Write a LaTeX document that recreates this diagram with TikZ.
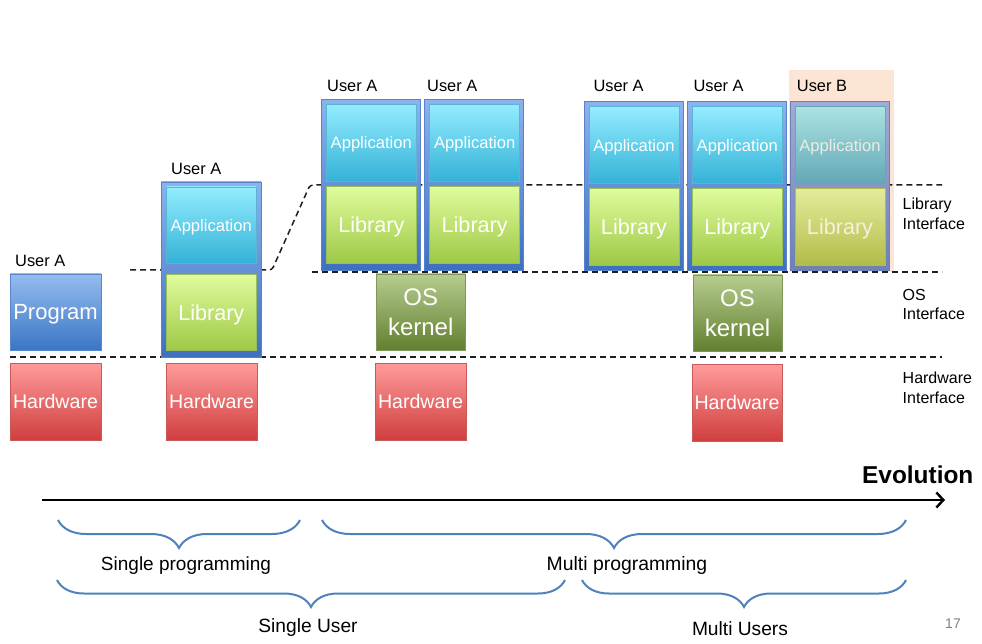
\documentclass[tikz,border=0pt]{standalone}
\usepackage{fontspec}
\setmainfont{Liberation Sans}
\usetikzlibrary{decorations.pathreplacing,arrows.meta}
\definecolor{hwT}{RGB}{255,155,155}
\definecolor{hwB}{RGB}{208,62,62}
\definecolor{hwD}{RGB}{200,90,90}
\definecolor{prT}{RGB}{150,188,240}
\definecolor{prB}{RGB}{58,118,198}
\definecolor{prD}{RGB}{90,135,200}
\definecolor{apT}{RGB}{148,236,255}
\definecolor{apB}{RGB}{52,178,214}
\definecolor{apD}{RGB}{90,180,210}
\definecolor{lbT}{RGB}{224,252,156}
\definecolor{lbB}{RGB}{158,200,70}
\definecolor{lbD}{RGB}{150,190,90}
\definecolor{osT}{RGB}{182,204,142}
\definecolor{osB}{RGB}{98,128,48}
\definecolor{osD}{RGB}{130,150,90}
\definecolor{frT}{RGB}{140,178,240}
\definecolor{frB}{RGB}{62,112,192}
\definecolor{frD}{RGB}{90,130,200}
\definecolor{bapT}{RGB}{172,226,226}
\definecolor{bapB}{RGB}{98,168,182}
\definecolor{blbT}{RGB}{228,236,156}
\definecolor{blbB}{RGB}{178,188,72}
\definecolor{bfrT}{RGB}{160,172,215}
\definecolor{bfrB}{RGB}{110,128,180}
\definecolor{peach}{RGB}{252,229,212}
\definecolor{braceblue}{RGB}{79,129,189}
\definecolor{dashc}{RGB}{30,30,30}
\begin{document}
\begin{tikzpicture}[x=1pt,y=-1pt,
  box/.style={minimum width=90pt,minimum height=76pt,inner sep=0pt,text=white,align=center,line width=0.6pt,text depth=0pt},
  hwbox/.style={box,top color=hwT,bottom color=hwB,draw=hwD,font=\fontsize{19.6}{22}\selectfont},
  progbox/.style={box,top color=prT,bottom color=prB,draw=prD,font=\fontsize{22}{26}\selectfont},
  appbox/.style={box,top color=apT,bottom color=apB,draw=apD,font=\fontsize{16.6}{20}\selectfont},
  libbox/.style={box,top color=lbT,bottom color=lbB,draw=lbD,font=\fontsize{21.6}{26}\selectfont},
  osbox/.style={box,top color=osT,bottom color=osB,draw=osD,font=\fontsize{24}{30}\selectfont},
  bappbox/.style={box,top color=bapT,bottom color=bapB,draw=bapB,text={rgb,255:red,236;green,236;blue,226},font=\fontsize{16.6}{20}\selectfont},
  blibbox/.style={box,top color=blbT,bottom color=blbB,draw=blbB,text={rgb,255:red,246;green,240;blue,222},font=\fontsize{21.6}{26}\selectfont},
  framebox/.style={minimum width=99pt,inner sep=0pt,top color=frT,bottom color=frB,draw=frD,line width=0.8pt},
  bframebox/.style={minimum width=99pt,inner sep=0pt,top color=bfrT,bottom color=bfrB,draw=bfrB,line width=0.8pt},
  userlbl/.style={anchor=base west,inner sep=0pt,font=\fontsize{16.4}{20}\selectfont},
  ifacelbl/.style={anchor=base west,inner sep=0pt,align=left,font=\fontsize{16}{19.5}\selectfont},
  bottomlbl/.style={anchor=base,inner sep=0pt,font=\fontsize{18.8}{22}\selectfont},
  iface/.style={dashc,line width=1.5pt,dash pattern=on 6pt off 4pt},
  bracestyle/.style={braceblue,line width=2pt,decorate,decoration={brace,amplitude=28pt,aspect=0.5,mirror}}
]
\useasboundingbox (0,0) rectangle (982,644);

% User B background
\node[fill=peach,minimum width=105pt,minimum height=202pt,inner sep=0pt] (peachbg) at (841.5,171) {};

% interface lines
\coordinate (l1a) at (130,270);
\coordinate (l1b) at (272,270);
\coordinate (l1c) at (310,185);
\coordinate (l1d) at (942,185);
\draw[iface,rounded corners=3pt] (l1a) -- (l1b) -- (l1c) -- (l1d);
\coordinate (l2a) at (312,272);
\coordinate (l2b) at (942,272);
\draw[iface] (l2a) -- (l2b);
\coordinate (l3a) at (10,357);
\coordinate (l3b) at (942,357);
\draw[iface] (l3a) -- (l3b);

% column 1
\node[userlbl] (u1) at (15,267) {User A};
\node[progbox,minimum width=91pt] (prog) at (55.5,312) {Program};
\node[hwbox,minimum width=91pt,minimum height=77pt] (hw1) at (55.5,401.5) {Hardware};

% column 2
\node[userlbl] (u2) at (171,175) {User A};
\node[framebox,minimum width=100pt,minimum height=175pt] (f2) at (211,269.5) {};
\node[appbox] (app2) at (211.3,225) {Application};
\node[libbox] (lib2) at (211.3,312.3) {Library};
\node[hwbox,minimum width=91pt,minimum height=77pt] (hw2) at (211.5,401.5) {Hardware};

% column 3
\node[userlbl] (u3a) at (327,91.7) {User A};
\node[userlbl] (u3b) at (427,91.7) {User A};
\node[framebox,minimum height=171.4pt] (f3a) at (371.2,185) {};
\node[framebox,minimum height=171.4pt] (f3b) at (473.8,185) {};
\node[appbox,minimum height=76.7pt] (app3a) at (371.3,142.7) {Application};
\node[libbox,minimum height=76.7pt] (lib3a) at (371.3,225) {Library};
\node[appbox,minimum height=76.7pt] (app3b) at (474.7,142.7) {Application};
\node[libbox,minimum height=76.7pt] (lib3b) at (474.7,225) {Library};
\node[osbox,minimum width=89.3pt,text depth=0pt] (os3) at (420.7,312) {OS\\kernel};
\node[hwbox,minimum width=91pt,minimum height=77pt] (hw3) at (420.5,401.5) {Hardware};

% column 4
\node[userlbl] (u4a) at (593.3,91.7) {User A};
\node[userlbl] (u4b) at (693.3,91.7) {User A};
\node[userlbl] (u4c) at (796.7,91.7) {User B};
\node[framebox,minimum height=169pt] (f4a) at (633.8,186.2) {};
\node[framebox,minimum height=169pt] (f4b) at (736.9,186.2) {};
\node[bframebox,minimum height=169pt] (f4c) at (840.2,186.2) {};
\node[appbox,minimum height=76.6pt] (app4a) at (634,145) {Application};
\node[libbox,minimum height=76.6pt] (lib4a) at (634,226.7) {Library};
\node[appbox,minimum height=76.6pt] (app4b) at (737.3,145) {Application};
\node[libbox,minimum height=76.6pt] (lib4b) at (737.3,226.7) {Library};
\node[bappbox,minimum height=76.6pt] (app4c) at (840,145) {Application};
\node[blibbox,minimum height=76.6pt] (lib4c) at (840,226.7) {Library};
\node[osbox,minimum width=89pt] (os4) at (737.5,313) {OS\\kernel};
\node[hwbox,minimum height=77pt] (hw4) at (737,402.5) {Hardware};

% interface labels (base = last line)
\node[ifacelbl] (li) at (902.5,229.5) {Library\\Interface};
\node[ifacelbl] (oi) at (902.5,319.5) {OS\\Interface};
\node[ifacelbl] (hi) at (902.5,403) {Hardware\\Interface};

% evolution arrow
\node[anchor=base west,inner sep=0pt,font=\bfseries\fontsize{24.4}{28}\selectfont] (evo) at (862,483) {Evolution};
\coordinate (ea) at (42,500);
\coordinate (eb) at (945,500);
\draw[line width=2.8pt,-{Straight Barb[length=7pt,width=15pt,line width=2.4pt]}] (ea) -- (eb);

% braces
\coordinate (b1s) at (58,520);  \coordinate (b1e) at (300,520);
\coordinate (b2s) at (322,520); \coordinate (b2e) at (906,520);
\coordinate (b3s) at (57,580);  \coordinate (b3e) at (565,580);
\coordinate (b4s) at (582,580); \coordinate (b4e) at (906,580);
\draw[bracestyle] (b1s) -- (b1e);
\draw[bracestyle] (b2s) -- (b2e);
\draw[bracestyle,decoration={amplitude=27pt}] (b3s) -- (b3e);
\draw[bracestyle,decoration={amplitude=27pt}] (b4s) -- (b4e);
\node[bottomlbl,font=\fontsize{19}{22}\selectfont] (sp) at (186,570) {Single programming};
\node[bottomlbl,font=\fontsize{19.4}{22}\selectfont] (mp) at (627,570) {Multi programming};
\node[bottomlbl,font=\fontsize{19.2}{22}\selectfont] (su) at (308,632) {Single User};
\node[bottomlbl,font=\fontsize{19.2}{22}\selectfont] (mu) at (740,635) {Multi Users};
\node[anchor=base,inner sep=0pt,text={rgb,255:red,128;green,128;blue,128},font=\fontsize{14}{16}\selectfont] (pg) at (953,628) {17};
\end{tikzpicture}
\end{document}
